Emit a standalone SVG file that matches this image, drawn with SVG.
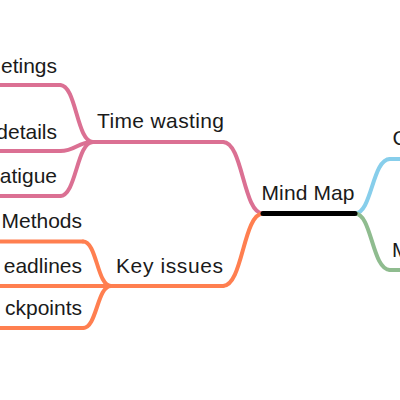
<svg xmlns="http://www.w3.org/2000/svg" width="400" height="400" viewBox="0 0 400 400">
<style>
  text { font-family: "Liberation Sans", Arial, sans-serif; font-size: 21px; fill: #1a1a1a; }
  .r { text-anchor: end; }
  path, line { fill: none; stroke-linecap: round; }
  .pink { stroke: #DB7093; stroke-width: 4; }
  .orange { stroke: #FF7F50; stroke-width: 4; }
  .blue { stroke: #87CEEB; stroke-width: 4; }
  .green { stroke: #8FBC8F; stroke-width: 4; }
  .root { stroke: #000; stroke-width: 5; }
</style>
<rect width="400" height="400" fill="#fff"/>
<g id="connectors">
  <path class="pink" d="M263,213.5 C243,213.5 243,142 223,142"/>
  <path class="orange" d="M263,213.5 C243,213.5 243,286 223,286"/>
  <path class="blue" d="M355,213.5 C372,213.5 372,159 390,159"/>
  <path class="green" d="M355,213.5 C372,213.5 372,270 390,270"/>
  <path class="pink" d="M93,142 C76.5,142 76.5,85 60,85"/>
  <path class="pink" d="M93,142 C76.5,142 76.5,151 60,151"/>
  <path class="pink" d="M93,142 C76.5,142 76.5,196 60,196"/>
  <path class="orange" d="M111,286 C97,286 97,241.5 83,241.5"/>
  <path class="orange" d="M111,286 L83,286"/>
  <path class="orange" d="M111,286 C97,286 97,328 83,328"/>
</g>
<g id="node-root">
  <line class="root" x1="263" y1="213.5" x2="355" y2="213.5"/>
  <text x="261.5" y="200" textLength="93" lengthAdjust="spacing">Mind Map</text>
</g>
<g id="node-time-wasting">
  <line class="pink" x1="93" y1="142" x2="223" y2="142"/>
  <text x="97" y="128" textLength="127" lengthAdjust="spacing">Time wasting</text>
</g>
<g id="node-key-issues">
  <line class="orange" x1="111" y1="286" x2="223" y2="286"/>
  <text x="116" y="273" textLength="107" lengthAdjust="spacing">Key issues</text>
</g>
<g id="node-meetings">
  <line class="pink" x1="-5" y1="85" x2="60" y2="85"/>
  <text class="r" x="57" y="73">etings</text>
</g>
<g id="node-details">
  <line class="pink" x1="-5" y1="151" x2="60" y2="151"/>
  <text class="r" x="57" y="139">details</text>
</g>
<g id="node-fatigue">
  <line class="pink" x1="-5" y1="196" x2="60" y2="196"/>
  <text class="r" x="57" y="183">atigue</text>
</g>
<g id="node-methods">
  <line class="orange" x1="-5" y1="241.5" x2="83" y2="241.5"/>
  <text class="r" x="82" y="228">Methods</text>
</g>
<g id="node-deadlines">
  <line class="orange" x1="-5" y1="286" x2="83" y2="286"/>
  <text class="r" x="82" y="273">eadlines</text>
</g>
<g id="node-checkpoints">
  <line class="orange" x1="-5" y1="328" x2="83" y2="328"/>
  <text class="r" x="82" y="315">ckpoints</text>
</g>
<g id="node-c">
  <line class="blue" x1="390" y1="159" x2="405" y2="159"/>
  <text x="392.5" y="145">C</text>
</g>
<g id="node-m">
  <line class="green" x1="390" y1="270" x2="405" y2="270"/>
  <text x="392" y="257">M</text>
</g>
</svg>
